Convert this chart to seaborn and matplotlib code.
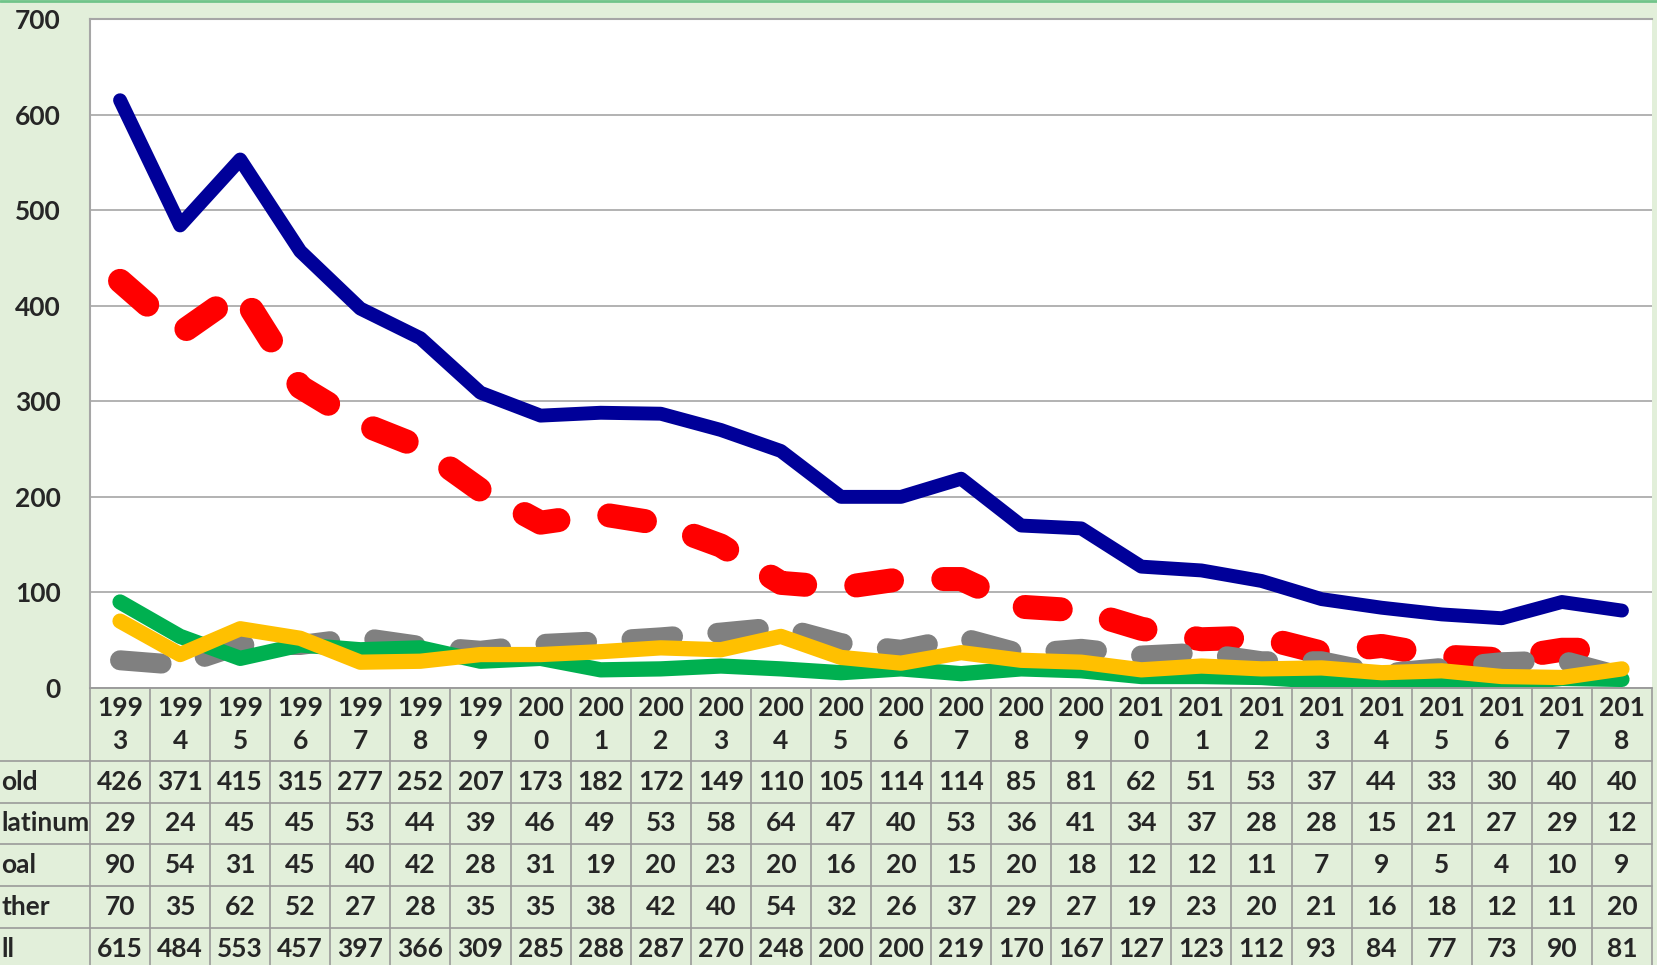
import numpy as np
import matplotlib
matplotlib.use("Agg")
import matplotlib.pyplot as plt
import seaborn as sns

# ===================== DATA =====================
years = [str(y) for y in range(1993, 2019)]
gold = [426, 371, 415, 315, 277, 252, 207, 173, 182, 172, 149, 110, 105,
        114, 114, 85, 81, 62, 51, 53, 37, 44, 33, 30, 40, 40]
platinum = [29, 24, 45, 45, 53, 44, 39, 46, 49, 53, 58, 64, 47,
            40, 53, 36, 41, 34, 37, 28, 28, 15, 21, 27, 29, 12]
coal = [90, 54, 31, 45, 40, 42, 28, 31, 19, 20, 23, 20, 16,
        20, 15, 20, 18, 12, 12, 11, 7, 9, 5, 4, 10, 9]
other = [70, 35, 62, 52, 27, 28, 35, 35, 38, 42, 40, 54, 32,
         26, 37, 29, 27, 19, 23, 20, 21, 16, 18, 12, 11, 20]
all_ = [615, 484, 553, 457, 397, 366, 309, 285, 288, 287, 270, 248, 200,
        200, 219, 170, 167, 127, 123, 112, 93, 84, 77, 73, 90, 81]
row_labels = ["old", "latinum", "oal", "ther", "ll"]  # cut off at the left edge
y_ticks = [0, 100, 200, 300, 400, 500, 600, 700]

# ===================== STYLE =====================
sns.set_style("white")
plt.rcParams["font.family"] = ["Lato", "DejaVu Sans"]
plt.rcParams["font.weight"] = "bold"
plt.rcParams["lines.scale_dashes"] = False

W, H = 1657, 965
BG = "#E2EFDA"
GRID = "#A6A6A6"
FS = 19

fig = plt.figure(figsize=(W / 100, H / 100), dpi=100, facecolor=BG)

def box(x0, y0, x1, y1):
    # pixel box (top-left origin) -> figure fraction rect
    return [x0 / W, 1 - y1 / H, (x1 - x0) / W, (y1 - y0) / H]

# ===================== LINE CHART =====================
ax = fig.add_axes(box(90, 19, 1652, 688))
ax.set_facecolor("white")
xi = np.arange(len(years))

series = [
    (gold, "#FF0000", 17.3, (0, (26, 37))),
    (platinum, "#808080", 14.4, (0, (30, 32))),
    (coal, "#00B050", 11.0, "-"),
    (other, "#FFC000", 11.0, "-"),
    (all_, "#000099", 10.0, "-"),
]
for vals, col, lw, ls in series:
    sns.lineplot(x=xi, y=vals, ax=ax, color=col, linewidth=lw, linestyle=ls,
                 dash_capstyle="round", solid_capstyle="round",
                 solid_joinstyle="round", dash_joinstyle="round")

ax.set_xlim(-0.5, len(years) - 0.5)
ax.set_ylim(0, 700)
ax.set_yticks(y_ticks)
ax.set_yticklabels([str(t) for t in y_ticks], fontsize=FS, fontweight="bold")
ax.set_xticks([])
ax.tick_params(axis="y", length=0, pad=21)
ax.grid(axis="y", color=GRID, linewidth=1.2)
ax.set_axisbelow(True)
ax.set_xlabel("")
ax.set_ylabel("")
for side in ["left", "top"]:
    ax.spines[side].set_color(GRID)
    ax.spines[side].set_linewidth(1.5)
ax.spines["right"].set_visible(False)
ax.spines["bottom"].set_color(GRID)
ax.spines["bottom"].set_linewidth(1.2)

# ===================== DATA TABLE =====================
tb = fig.add_axes(box(90, 688, 1652, 969.5))
tb.set_xlim(-0.5, len(years) - 0.5)
tb.set_ylim(969.5, 688)
tb.axis("off")
tb.patch.set_alpha(0)

row_edges = [688, 761, 802.5, 844, 886, 928, 969.5]
left_px = -0.5 - 90 / (1562 / len(years))
for k in range(len(years) + 1):
    tb.plot([k - 0.5, k - 0.5], [688, 969.5], color="#9A9A9A", lw=1.2, clip_on=False)
tb.plot([-0.5, len(years) - 0.5], [688, 688], color="#9A9A9A", lw=1.2, clip_on=False)
for y in row_edges[1:]:
    tb.plot([left_px, len(years) - 0.5], [y, y], color="#9A9A9A", lw=1.2, clip_on=False)

for i, yr in enumerate(years):
    tb.text(i, 708, yr[:3], ha="center", va="center", fontsize=FS, fontweight="bold")
    tb.text(i, 741, yr[3:], ha="center", va="center", fontsize=FS, fontweight="bold")

table_rows = [gold, platinum, coal, other, all_]
for r, (lab, vals) in enumerate(zip(row_labels, table_rows)):
    yc = (row_edges[r + 1] + row_edges[r + 2]) / 2
    fig.text(1 / W, 1 - yc / H, lab, ha="left", va="center", fontsize=FS, fontweight="bold")
    for i, v in enumerate(vals):
        tb.text(i, yc, str(v), ha="center", va="center", fontsize=FS, fontweight="bold")

# thin green border line at the very top
fig.add_artist(plt.Line2D([0, 1], [1 - 1 / H, 1 - 1 / H], color="#70C48A", lw=2))

fig.savefig("out.png", dpi=100, facecolor=BG)
